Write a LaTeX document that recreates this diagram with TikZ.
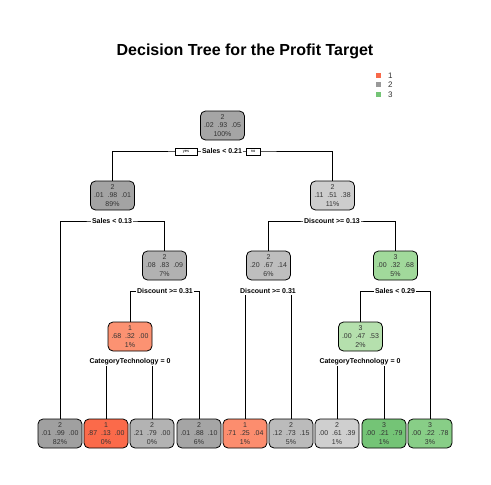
\documentclass[tikz,border=0pt]{standalone}
\usepackage{fontspec}
\setmainfont{Liberation Sans}
\usetikzlibrary{shapes.misc}
\definecolor{cRoot}{HTML}{A5A5A5}
\definecolor{cNa}{HTML}{A3A3A3}
\definecolor{cNb}{HTML}{CDCDCD}
\definecolor{cNe}{HTML}{B1B1B1}
\definecolor{cNf}{HTML}{BEBEBE}
\definecolor{cNg}{HTML}{A1D99B}
\definecolor{cNj}{HTML}{FC9272}
\definecolor{cNn}{HTML}{B5E0AD}
\definecolor{cLa}{HTML}{A0A0A0}
\definecolor{cLb}{HTML}{FB6A4A}
\definecolor{cLc}{HTML}{B3B3B3}
\definecolor{cLd}{HTML}{A5A5A5}
\definecolor{cLe}{HTML}{FC8D6E}
\definecolor{cLf}{HTML}{BBBBBB}
\definecolor{cLg}{HTML}{CFCFCF}
\definecolor{cLh}{HTML}{74C476}
\definecolor{cLi}{HTML}{88CE87}
\definecolor{txt}{HTML}{333333}
\definecolor{leg1}{HTML}{F8694A}
\definecolor{leg2}{HTML}{999999}
\definecolor{leg3}{HTML}{74C476}
\begin{document}
\begin{tikzpicture}[x=1pt,y=-1pt,
  tnode/.style={draw=black,line width=0.8pt,rounded corners=5pt,minimum width=44pt,minimum height=29pt,
    inner sep=0pt,align=center,text=txt,font=\fontsize{7}{8.6}\selectfont},
  splitlbl/.style={fill=white,inner sep=1pt,font=\fontsize{7}{8}\selectfont\bfseries,text=black},
  yn/.style={draw=black,fill=white,line width=0.6pt,minimum width=22pt,minimum height=7pt,inner sep=0pt,font=\fontsize{4}{4}\selectfont},
  edge/.style={line width=0.8pt},
  legsq/.style={minimum size=5pt,inner sep=0pt},
  legtxt/.style={font=\fontsize{8}{8}\selectfont,text=txt,anchor=west,inner sep=0pt}]
\useasboundingbox (0,0) rectangle (491,485);
\fill[white] (0,0) rectangle (491,485);
% title
\node[font=\fontsize{16}{16}\selectfont\bfseries] (title) at (245,51) {Decision Tree for the Profit Target};
% legend
\node[legsq,fill=leg1] (lg1) at (378.5,75) {};
\node[legsq,fill=leg2] (lg2) at (378.5,84.5) {};
\node[legsq,fill=leg3] (lg3) at (378.5,94) {};
\node[legtxt] (lt1) at (388,75.5) {1};
\node[legtxt] (lt2) at (388,85) {2};
\node[legtxt] (lt3) at (388,94.5) {3};
% split label coordinates
\coordinate (s1) at (222,151);
\coordinate (s2) at (112,221);
\coordinate (s3) at (332,221);
\coordinate (s5) at (165,291);
\coordinate (s6) at (268,291);
\coordinate (s7) at (395,291);
\coordinate (s10) at (130,362);
\coordinate (s14) at (360,362);
% nodes
\node[tnode,fill=cRoot] (root) at (222.5,125.5) {2\\.02 \ .93 \ .05\\100\%};
\node[tnode,fill=cNa] (n2) at (112.5,195.5) {2\\.01 \ .98 \ .01\\89\%};
\node[tnode,fill=cNb] (n3) at (332.5,195.5) {2\\.11 \ .51 \ .38\\11\%};
\node[tnode,fill=cNe] (n5) at (164.5,265.5) {2\\.08 \ .83 \ .09\\7\%};
\node[tnode,fill=cNf] (n6) at (268.5,265.5) {2\\.20 \ .67 \ .14\\6\%};
\node[tnode,fill=cNg] (n7) at (395.5,265.5) {3\\.00 \ .32 \ .68\\5\%};
\node[tnode,fill=cNj] (n10) at (130,336.5) {1\\.68 \ .32 \ .00\\1\%};
\node[tnode,fill=cNn] (n14) at (360.5,336.5) {3\\.00 \ .47 \ .53\\2\%};
\node[tnode,fill=cLa] (l1) at (60,433.5) {2\\.01 \ .99 \ .00\\82\%};
\node[tnode,fill=cLb] (l2) at (106,433.5) {1\\.87 \ .13 \ .00\\0\%};
\node[tnode,fill=cLc] (l3) at (152,433.5) {2\\.21 \ .79 \ .00\\0\%};
\node[tnode,fill=cLd] (l4) at (199,433.5) {2\\.01 \ .88 \ .10\\6\%};
\node[tnode,fill=cLe] (l5) at (245,433.5) {1\\.71 \ .25 \ .04\\1\%};
\node[tnode,fill=cLf] (l6) at (291,433.5) {2\\.12 \ .73 \ .15\\5\%};
\node[tnode,fill=cLg] (l7) at (337,433.5) {2\\.00 \ .61 \ .39\\1\%};
\node[tnode,fill=cLh] (l8) at (384,433.5) {3\\.00 \ .21 \ .79\\1\%};
\node[tnode,fill=cLi] (l9) at (430,433.5) {3\\.00 \ .22 \ .78\\3\%};
% connectors
\draw[edge] (n2.north) |- (s1) -| (n3.north);
\draw[edge] (l1.north) |- (s2) -| (n5.north);
\draw[edge] (n6.north) |- (s3) -| (n7.north);
\draw[edge] (n10.north) |- (s5) -| (l4.north);
\draw[edge] (l5.north) |- (s6) -| (l6.north);
\draw[edge] (n14.north) |- (s7) -| (l9.north);
\draw[edge] (l2.north) |- (s10) -| (l3.north);
\draw[edge] (l7.north) |- (s14) -| (l8.north);
% split labels
\node[splitlbl] (t1) at (s1) {Sales < 0.21};
\node[yn] (yes) at (186,151.5) {yes};
\node[yn,minimum width=14pt] (no) at (253,151.5) {no};
\node[splitlbl] (t2) at (s2) {Sales < 0.13};
\node[splitlbl] (t3) at (s3) {Discount >= 0.13};
\node[splitlbl] (t5) at (s5) {Discount >= 0.31};
\node[splitlbl] (t6) at (s6) {Discount >= 0.31};
\node[splitlbl] (t7) at (s7) {Sales < 0.29};
\node[splitlbl] (t10) at (s10) {CategoryTechnology = 0};
\node[splitlbl] (t14) at (s14) {CategoryTechnology = 0};
\end{tikzpicture}
\end{document}
